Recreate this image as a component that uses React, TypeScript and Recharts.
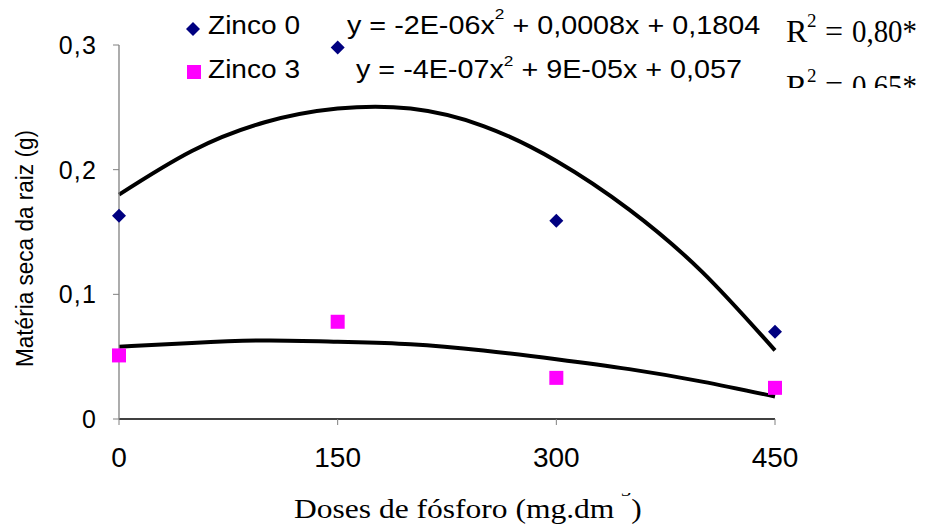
import React from "react";
import { ComposedChart, Line, Scatter, XAxis, YAxis } from "recharts";

// observed points
const doses = [0, 150, 300, 450];
const zinco0 = [0.163, 0.298, 0.159, 0.07];
const zinco3 = [0.051, 0.078, 0.033, 0.025];

// fitted curves
const curveDoses = [0, 50, 100, 150, 200, 250, 300, 350, 400, 450];
const curveZinco0 = [0.18, 0.215, 0.238, 0.249, 0.249, 0.235, 0.207, 0.168, 0.118, 0.055];
const curveZinco3 = [0.058, 0.061, 0.063, 0.062, 0.06, 0.055, 0.048, 0.04, 0.03, 0.018];

const xTicks = [0, 150, 300, 450];
const yTicks = [0, 0.1, 0.2, 0.3];

const SANS = "Liberation Sans, Arial, sans-serif";
const SERIF = "Liberation Serif, Times New Roman, serif";
const NAVY = "#000080";
const MAGENTA = "#FF00FF";

const pts0 = doses.map((x, i) => ({ x, y: zinco0[i] }));
const pts3 = doses.map((x, i) => ({ x, y: zinco3[i] }));
const fit0 = curveDoses.map((x, i) => ({ x, y: curveZinco0[i] }));
const fit3 = curveDoses.map((x, i) => ({ x, y: curveZinco3[i] }));

const Diamond = (props: any) => {
    const { cx, cy } = props;
    const r = 7;
    return <polygon points={`${cx},${cy - r} ${cx + r},${cy} ${cx},${cy + r} ${cx - r},${cy}`} fill={NAVY} />;
};

const Square = (props: any) => {
    const { cx, cy } = props;
    return <rect x={cx - 7} y={cy - 7} width={14} height={14} fill={MAGENTA} />;
};

const XTick = (props: any) => {
    const { x, y, payload } = props;
    return (
        <text x={x} y={y + 22} textAnchor="middle" fontFamily={SANS} fontSize={28} fill="#000">
            {payload.value}
        </text>
    );
};

const YTick = (props: any) => {
    const { x, y, payload } = props;
    const label = payload.value === 0 ? "0" : payload.value.toFixed(1).replace(".", ",");
    return (
        <text x={x} y={y + 9} textAnchor="end" fontFamily={SANS} fontSize={25} letterSpacing={1.2} fill="#000">
            {label}
        </text>
    );
};

// R² label drawn in pieces, like the equation editor lays it out
const R2 = ({ y, value }: { y: number; value: string }) => (
    <g fontFamily={SERIF} fill="#000">
        <text x={786} y={y} fontSize={32}>R</text>
        <text x={807} y={y - 15} fontSize={19}>2</text>
        <text x={825} y={y} fontSize={32}>=</text>
        <text x={852} y={y} fontSize={32} textLength={65} lengthAdjust="spacingAndGlyphs">{value}</text>
    </g>
);

export default function App() {
    return (
        <div style={{ position: "absolute", left: 0, top: 0, width: 926, height: 528, background: "#fff" }}>
            <ComposedChart width={926} height={528} margin={{ top: 45, right: 151, bottom: 0, left: 0 }}>
                <XAxis
                    dataKey="x"
                    type="number"
                    domain={[0, 450]}
                    ticks={xTicks}
                    height={109}
                    axisLine={{ stroke: "#000", strokeWidth: 1.3 }}
                    tickLine={{ stroke: "#808080" }}
                    tickSize={6}
                    tickMargin={20}
                    tick={<XTick />}
                />
                <YAxis
                    dataKey="y"
                    type="number"
                    domain={[0, 0.3]}
                    ticks={yTicks}
                    width={119}
                    axisLine={{ stroke: "#808080", strokeWidth: 1.3 }}
                    tickLine={{ stroke: "#808080" }}
                    tickSize={6}
                    tickMargin={16}
                    tick={<YTick />}
                />
                <Line data={fit0} dataKey="y" type="natural" stroke="#000" strokeWidth={4} dot={false} isAnimationActive={false} />
                <Line data={fit3} dataKey="y" type="natural" stroke="#000" strokeWidth={4} dot={false} isAnimationActive={false} />
                <Scatter data={pts0} dataKey="y" shape={<Diamond />} isAnimationActive={false} />
                <Scatter data={pts3} dataKey="y" shape={<Square />} isAnimationActive={false} />
            </ComposedChart>

            {/* legend, equations and axis titles */}
            <svg width={926} height={528} style={{ position: "absolute", left: 0, top: 0, pointerEvents: "none" }}>
                <defs>
                    <clipPath id="r2clip">
                        <rect x={770} y={60} width={156} height={28} />
                    </clipPath>
                    <clipPath id="xtclip">
                        <rect x={250} y={493} width={450} height={35} />
                    </clipPath>
                </defs>

                <polygon points="193,22 200,29 193,36 186,29" fill={NAVY} />
                <text x={208} y={34} fontFamily={SANS} fontSize={25} textLength={92} lengthAdjust="spacingAndGlyphs">Zinco 0</text>
                <rect x={187} y={65} width={14} height={14} fill={MAGENTA} />
                <text x={208} y={78} fontFamily={SANS} fontSize={25} textLength={92} lengthAdjust="spacingAndGlyphs">Zinco 3</text>

                <text transform="translate(347,34) scale(1.15,1)" fontFamily={SANS} fontSize={25}>
                    y = -2E-06x<tspan fontSize={15} dy={-15}>2</tspan><tspan dy={15}> + 0,0008x + 0,1804</tspan>
                </text>
                <text transform="translate(356,78) scale(1.15,1)" fontFamily={SANS} fontSize={25}>
                    y = -4E-07x<tspan fontSize={15} dy={-12}>2</tspan><tspan dy={12}> + 9E-05x + 0,057</tspan>
                </text>

                <R2 y={42} value="0,80*" />
                <g clipPath="url(#r2clip)">
                    <R2 y={97} value="0,65*" />
                </g>

                <text transform="translate(33,367) rotate(-90)" fontFamily={SANS} fontSize={23} textLength={237} lengthAdjust="spacingAndGlyphs">
                    Matéria seca da raiz (g)
                </text>

                <g clipPath="url(#xtclip)">
                    <text transform="translate(294,518) scale(1.19,1)" fontFamily={SERIF} fontSize={26.5}>
                        Doses de fósforo (mg.dm<tspan fontSize={17} dy={-22}>-3</tspan><tspan dy={22}>)</tspan>
                    </text>
                </g>
            </svg>
        </div>
    );
}
